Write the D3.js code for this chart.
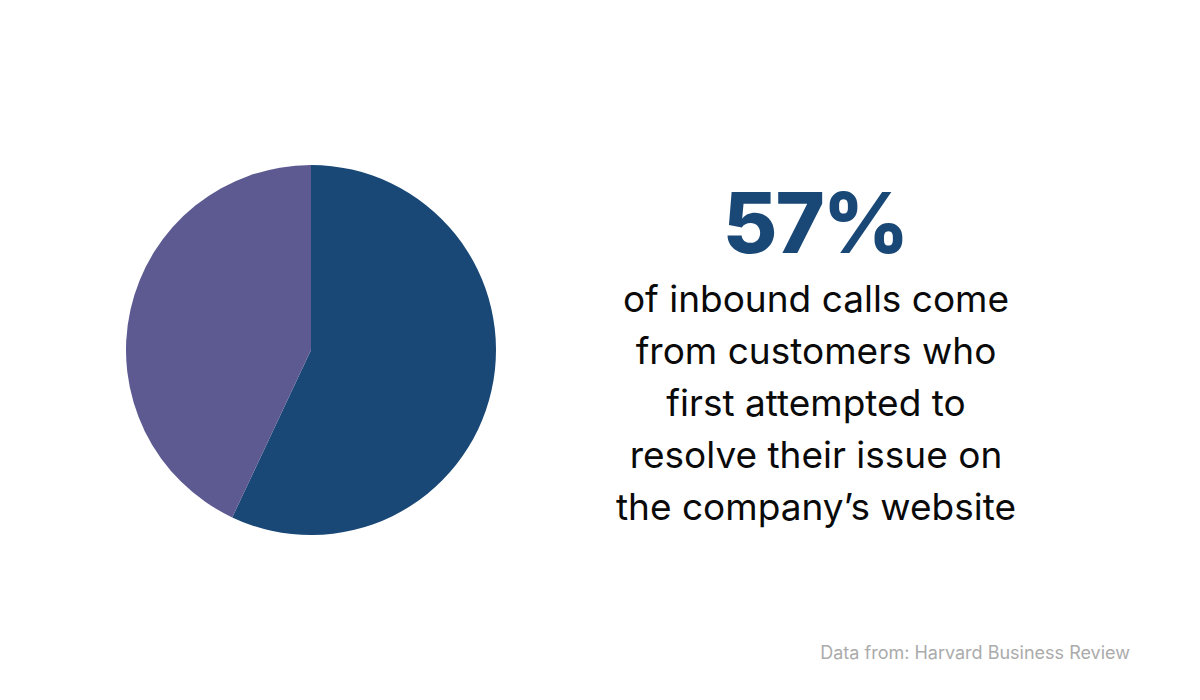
<!DOCTYPE html>
<html><head><meta charset="utf-8">
<script src="https://cdn.jsdelivr.net/npm/d3@7"></script>
<style>html,body{margin:0;padding:0;background:#fff;}</style>
</head><body>
<div id="chart"></div>
<script>
const categories = ["Attempted website first", "Other"];
const values = [57, 43];
const colors = ["#1a4876", "#5d5a92"];
const headline = "57%";
const bodyLines = ["of inbound calls come", "from customers who", "first attempted to", "resolve their issue on", "the company\u2019s website"];
const source = "Data from: Harvard Business Review";

const W = 1200, H = 700;
const svg = d3.select("#chart").append("svg").attr("width", W).attr("height", H);
svg.append("rect").attr("width", W).attr("height", H).attr("fill", "#fff");

const pie = d3.pie().sort(null).value(d => d)(values);
const arc = d3.arc().innerRadius(0).outerRadius(185);
const g = svg.append("g").attr("transform", "translate(311,350)");
g.selectAll("path").data(pie).join("path")
  .attr("d", arc).attr("fill", (d, i) => colors[i]);

svg.append("text").attr("x", 815).attr("y", 253)
  .attr("text-anchor", "middle").attr("font-family", "Inter")
  .attr("font-weight", 800).attr("font-size", 84).attr("letter-spacing", -2).attr("fill", "#1a4876")
  .text(headline);

svg.append("g").selectAll("text").data(bodyLines).join("text")
  .attr("x", 816).attr("y", (d, i) => 312 + i * 52)
  .attr("text-anchor", "middle").attr("font-family", "Inter")
  .attr("font-size", 37).attr("fill", "#0a0a0a").text(d => d);

svg.append("text").attr("x", 1130).attr("y", 659)
  .attr("text-anchor", "end").attr("font-family", "Inter")
  .attr("font-size", 18).attr("fill", "#ababab").text(source);
</script>
</body></html>
